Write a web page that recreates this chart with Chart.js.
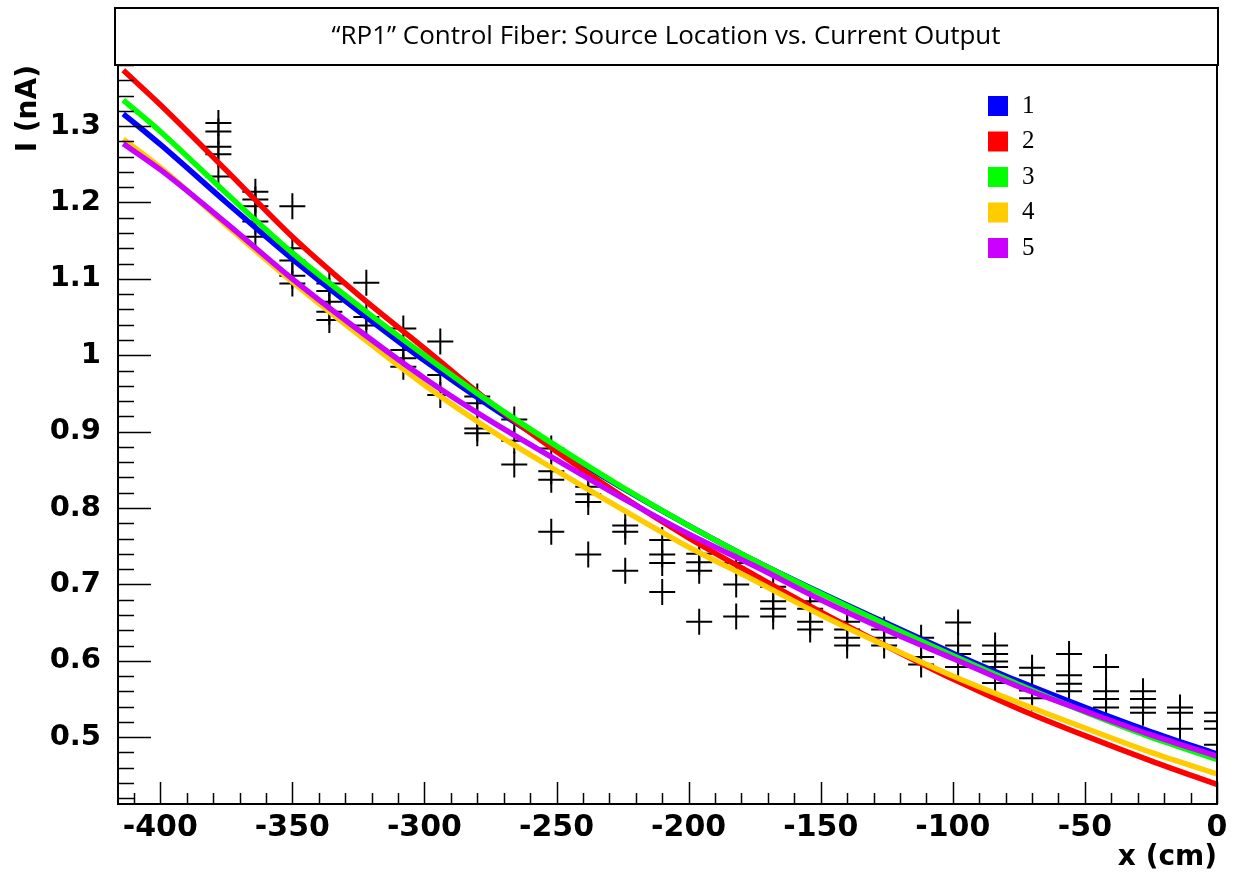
<!DOCTYPE html>
<html lang="en">
<head>
<meta charset="UTF-8">
<title>RP1 Control Fiber: Source Location vs. Current Output</title>
<script src="https://cdn.jsdelivr.net/npm/chart.js"></script>
<style>
    body {
        margin: 0;
        background-color: #fff;
    }
    #wrap {
        width: 1238px;
        height: 886px;
    }
</style>
</head>
<body>
<div id="wrap"><canvas id="chart" width="1238" height="886"></canvas></div>
<script>
const chartTitle = '\u201cRP1\u201d Control Fiber: Source Location vs. Current Output';

// fitted curves
const curveX = [-414, -400, -375, -350, -325, -300, -275, -250, -225, -200, -175, -150, -125, -100, -75, -50, -25, 0];
const fiber1 = [1.316, 1.276, 1.200, 1.126, 1.058, 0.993, 0.933, 0.878, 0.826, 0.777, 0.731, 0.689, 0.649, 0.610, 0.573, 0.539, 0.507, 0.478];
const fiber2 = [1.373, 1.328, 1.242, 1.155, 1.079, 1.009, 0.938, 0.874, 0.815, 0.761, 0.712, 0.664, 0.619, 0.576, 0.537, 0.502, 0.469, 0.438];
const fiber3 = [1.334, 1.293, 1.212, 1.134, 1.065, 1.000, 0.938, 0.881, 0.827, 0.777, 0.731, 0.688, 0.647, 0.607, 0.569, 0.533, 0.500, 0.471];
const fiber4 = [1.283, 1.246, 1.170, 1.096, 1.027, 0.961, 0.902, 0.849, 0.798, 0.749, 0.705, 0.660, 0.619, 0.580, 0.545, 0.512, 0.480, 0.452];
const fiber5 = [1.277, 1.243, 1.173, 1.100, 1.033, 0.970, 0.914, 0.863, 0.813, 0.766, 0.724, 0.680, 0.640, 0.603, 0.566, 0.534, 0.503, 0.475];

// measured points (black crosses), one list of readings per source position
const pointX = [-378, -364, -350, -336, -322, -308, -294, -280, -266, -252, -238, -224, -210, -196,
                -182, -168, -154, -140, -126, -112, -98, -84, -70, -56, -42, -28, -14, 0];
const pointY = [
    [1.304, 1.293, 1.273, 1.263, 1.234],
    [1.214, 1.204, 1.195, 1.175, 1.155],
    [1.195, 1.140, 1.124, 1.104, 1.094],
    [1.094, 1.084, 1.070, 1.057, 1.046],
    [1.095, 1.050, 1.039],
    [1.035, 1.007, 0.996, 0.985],
    [1.018, 0.974, 0.948],
    [0.946, 0.937, 0.904, 0.898],
    [0.916, 0.888, 0.857],
    [0.878, 0.848, 0.837, 0.769],
    [0.828, 0.818, 0.808, 0.739],
    [0.777, 0.769, 0.718],
    [0.758, 0.739, 0.728, 0.690],
    [0.740, 0.729, 0.718, 0.651],
    [0.728, 0.700, 0.658],
    [0.697, 0.678, 0.668, 0.658],
    [0.678, 0.668, 0.651, 0.641],
    [0.651, 0.641, 0.630, 0.620],
    [0.641, 0.630, 0.620],
    [0.630, 0.605, 0.595],
    [0.650, 0.620, 0.609, 0.592],
    [0.620, 0.609, 0.599, 0.592, 0.571],
    [0.591, 0.581, 0.561, 0.551],
    [0.609, 0.581, 0.570, 0.560],
    [0.592, 0.560, 0.550, 0.539],
    [0.560, 0.550, 0.539, 0.532],
    [0.539, 0.532, 0.511],
    [0.532, 0.521, 0.511, 0.490]
];

const xTicks = [-400, -350, -300, -250, -200, -150, -100, -50, 0];
const yTicks = [0.5, 0.6, 0.7, 0.8, 0.9, 1.0, 1.1, 1.2, 1.3];

const seriesNames = ['1', '2', '3', '4', '5'];
const seriesColors = ['#0000ff', '#ff0000', '#00ff00', '#ffcc00', '#cc00ff'];
const fibers = [fiber1, fiber2, fiber3, fiber4, fiber5];

const crossPoints = [];
pointX.forEach((x, i) => pointY[i].forEach(y => crossPoints.push({ x: x, y: y })));

const datasets = fibers.map((vals, i) => ({
    label: seriesNames[i],
    data: curveX.map((x, j) => ({ x: x, y: vals[j] })),
    showLine: true,
    borderColor: seriesColors[i],
    backgroundColor: seriesColors[i],
    borderWidth: 5.5,
    pointRadius: 0,
    cubicInterpolationMode: 'monotone',
    order: 5 - i
}));
datasets.push({
    label: 'data',
    data: crossPoints,
    showLine: false,
    pointStyle: 'cross',
    pointRadius: 13,
    borderColor: '#000',
    borderWidth: 2,
    order: 6
});

// title box, frame, inside ticks and legend in ROOT style
const rootStyle = {
    id: 'rootStyle',
    beforeDraw(chart) {
        const ctx = chart.ctx;
        ctx.save();
        ctx.fillStyle = '#fff';
        ctx.fillRect(0, 0, chart.width, chart.height);
        ctx.restore();
    },
    afterDraw(chart) {
        const { ctx, chartArea: a, scales: { x, y } } = chart;
        ctx.save();

        // frame
        ctx.strokeStyle = '#000';
        ctx.lineWidth = 2;
        ctx.strokeRect(a.left, a.top, a.right - a.left, a.bottom - a.top);

        // ticks pointing inwards
        ctx.lineWidth = 1.5;
        ctx.beginPath();
        for (let v = -410; v <= 0; v += 10) {
            const px = Math.round(x.getPixelForValue(v)) + 0.5;
            const len = v % 50 === 0 ? 22 : 11;
            ctx.moveTo(px, a.bottom);
            ctx.lineTo(px, a.bottom - len);
        }
        for (let i = 21; i <= 69; i++) {
            const py = Math.round(y.getPixelForValue(i / 50)) + 0.5;
            const len = i % 5 === 0 ? 33 : 16;
            ctx.moveTo(a.left, py);
            ctx.lineTo(a.left + len, py);
        }
        ctx.stroke();

        // title box
        ctx.fillStyle = '#fff';
        ctx.lineWidth = 2;
        ctx.fillRect(115, 8, 1103, 57);
        ctx.strokeRect(115, 8, 1103, 57);
        ctx.fillStyle = '#000';
        ctx.font = '26px "Open Sans"';
        ctx.textAlign = 'center';
        ctx.textBaseline = 'middle';
        ctx.fillText(chartTitle, 666, 37);

        // legend
        ctx.textAlign = 'left';
        ctx.font = '25px "Liberation Serif"';
        chart.data.datasets.slice(0, 5).forEach((ds, i) => {
            const cy = 106 + i * 35.5;
            ctx.fillStyle = ds.borderColor;
            ctx.fillRect(988, cy - 10, 20, 20);
            ctx.fillStyle = '#000';
            ctx.fillText(ds.label, 1022, cy);
        });

        ctx.restore();
    }
};

new Chart(document.getElementById('chart'), {
    type: 'scatter',
    data: { datasets: datasets },
    options: {
        responsive: false,
        animation: false,
        layout: { padding: { top: 65, right: 21, left: 0, bottom: 0 } },
        plugins: {
            legend: { display: false },
            tooltip: { enabled: false },
            title: { display: false }
        },
        scales: {
            x: {
                type: 'linear',
                min: -416,
                max: 0,
                afterFit(scale) { scale.height = 82; },
                afterBuildTicks(scale) { scale.ticks = xTicks.map(v => ({ value: v })); },
                grid: { display: false },
                border: { display: false },
                ticks: {
                    color: '#000',
                    padding: 1,
                    font: { family: 'DejaVu Sans', size: 30, weight: 'bold', lineHeight: 1 },
                    callback: v => String(v)
                },
                title: {
                    display: true,
                    text: 'x (cm)',
                    align: 'end',
                    color: '#000',
                    padding: { top: 0, bottom: 11 },
                    font: { family: 'DejaVu Sans', size: 28, weight: 'bold' }
                }
            },
            y: {
                type: 'linear',
                min: 0.4125,
                max: 1.38,
                afterFit(scale) { scale.width = 118; },
                afterBuildTicks(scale) { scale.ticks = yTicks.map(v => ({ value: v })); },
                grid: { display: false },
                border: { display: false },
                ticks: {
                    color: '#000',
                    padding: 9,
                    font: { family: 'DejaVu Sans', size: 29, weight: 'bold' },
                    callback: v => String(+v.toFixed(1))
                },
                title: {
                    display: true,
                    text: 'I (nA)',
                    align: 'end',
                    color: '#000',
                    padding: { top: 12, bottom: 0 },
                    font: { family: 'DejaVu Sans', size: 28, weight: 'bold' }
                }
            }
        }
    },
    plugins: [rootStyle]
});
</script>
</body>
</html>
